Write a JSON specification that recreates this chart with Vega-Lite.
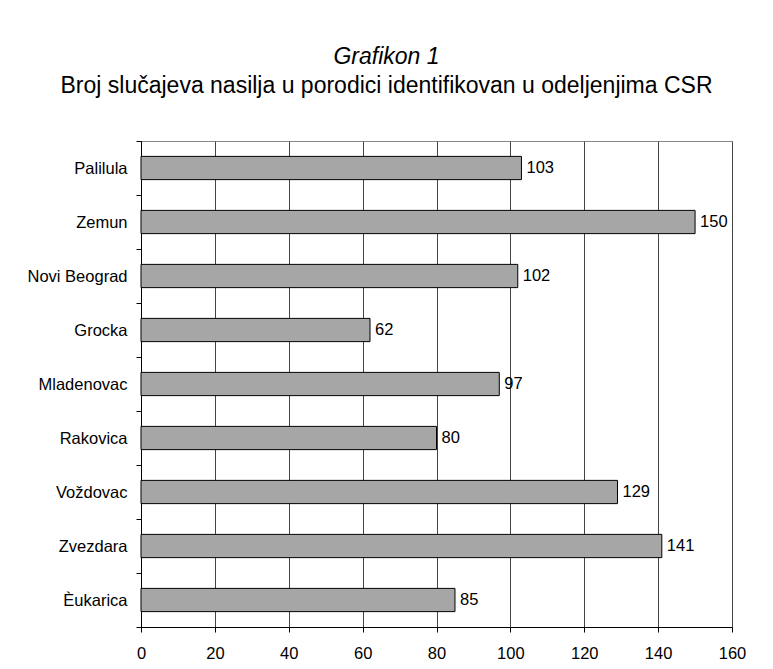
{
  "$schema": "https://vega.github.io/schema/vega-lite/v6.json",
  "width": 591,
  "height": 486,
  "autosize": {"type": "none"},
  "padding": {"left": 141, "top": 141, "right": 41, "bottom": 42},
  "background": "white",
  "title": {
    "text": "Grafikon 1",
    "subtitle": "Broj slučajeva nasilja u porodici identifikovan u odeljenjima CSR",
    "font": "Liberation Sans",
    "fontSize": 23,
    "fontStyle": "italic",
    "fontWeight": "normal",
    "color": "black",
    "subtitleFont": "Liberation Sans",
    "subtitleFontSize": 23,
    "subtitleFontStyle": "normal",
    "subtitleColor": "black",
    "subtitlePadding": 6,
    "anchor": "middle",
    "offset": 35,
    "dx": -50
  },
  "config": {"view": {"stroke": "#888888", "strokeWidth": 1}},
  "data": {
    "values": [
      {"district": "Palilula", "count": 103},
      {"district": "Zemun", "count": 150},
      {"district": "Novi Beograd", "count": 102},
      {"district": "Grocka", "count": 62},
      {"district": "Mladenovac", "count": 97},
      {"district": "Rakovica", "count": 80},
      {"district": "Voždovac", "count": 129},
      {"district": "Zvezdara", "count": 141},
      {"district": "Èukarica", "count": 85}
    ]
  },
  "encoding": {
    "y": {
      "field": "district",
      "type": "nominal",
      "sort": null,
      "scale": {"paddingInner": 0, "paddingOuter": 0},
      "axis": {
        "title": null,
        "tickBand": "extent",
        "tickSize": 5,
        "tickColor": "black",
        "domainColor": "black",
        "labelFont": "Liberation Sans",
        "labelFontSize": 16.5,
        "labelColor": "black",
        "labelPadding": 9,
        "grid": false
      }
    },
    "x": {
      "field": "count",
      "type": "quantitative",
      "scale": {"domain": [0, 160], "nice": false},
      "axis": {
        "title": null,
        "values": [0, 20, 40, 60, 80, 100, 120, 140, 160],
        "tickSize": 5,
        "tickColor": "black",
        "domainColor": "black",
        "grid": true,
        "gridColor": "#444444",
        "gridOpacity": 1,
        "labelFont": "Liberation Sans",
        "labelFontSize": 16.5,
        "labelColor": "black",
        "labelPadding": 13,
        "labelFlush": false
      }
    }
  },
  "layer": [
    {
      "mark": {"type": "bar", "fill": "#a6a6a6", "stroke": "black", "strokeWidth": 1, "height": {"band": 0.43}}
    },
    {
      "mark": {"type": "text", "align": "left", "baseline": "middle", "dx": 5, "font": "Liberation Sans", "fontSize": 16.5, "color": "black"},
      "encoding": {"text": {"field": "count", "type": "quantitative"}}
    }
  ]
}
